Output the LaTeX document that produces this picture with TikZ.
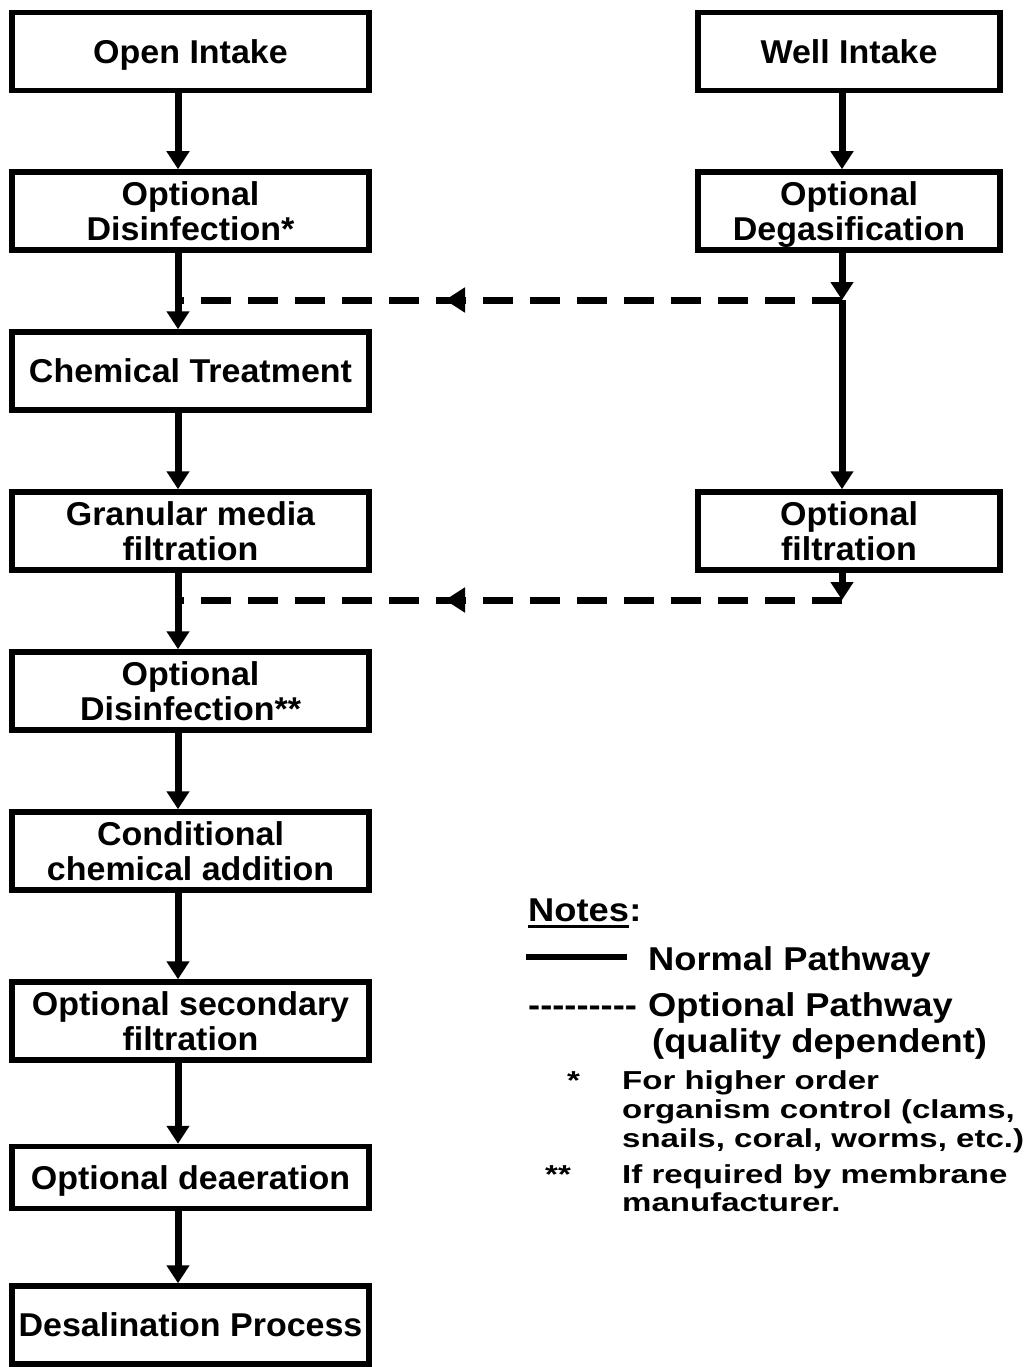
\documentclass[tikz,border=0pt]{standalone}
\usepackage{fontspec}
\setmainfont{Liberation Sans}
\newfontfamily\boxfont{Liberation Sans}[FakeStretch=1.03]
\newfontfamily\notefont{Liberation Sans}[FakeStretch=1.1]
\newfontfamily\footfont{Liberation Sans}[FakeStretch=1.27]
\usetikzlibrary{arrows.meta,decorations.markings,calc}
% a hyphen that never merges with its neighbour into a dash ligature
\newcommand\singlehyphen{-\kern0pt}

\tikzset{
  stagebox/.style={draw, line width=5.5pt, inner sep=0pt, align=center,
    font=\boxfont\bfseries\fontsize{33}{35}\selectfont},
  leftbox/.style={stagebox, minimum width=357pt, minimum height=78pt},
  rightbox/.style={stagebox, minimum width=302pt, minimum height=78pt},
  nodepth/.style={text depth=0pt},
  flow/.style={line width=7pt, -{Triangle[length=18pt,width=22pt]}},
  optflow/.style={line width=7pt, dash pattern=on 30pt off 17pt,
    postaction={decorate},
    decoration={markings,
      mark=at position 397pt with {\arrow{Triangle[length=20pt,width=24pt]}}}},
  notetext/.style={inner sep=0pt, anchor=base west,
    font=\notefont\bfseries\fontsize{33}{36}\selectfont},
  foottext/.style={inner sep=0pt, anchor=base west,
    font=\footfont\bfseries\fontsize{26}{29}\selectfont},
}

\begin{document}
\begin{tikzpicture}[x=1pt,y=-1pt]
\useasboundingbox (0,0) rectangle (1030,1367);

% main treatment train (left)
\node[leftbox, nodepth] (open) at (190.5,51.5) {Open Intake};
\node[leftbox] (dis1)   at (190.5,211)   {Optional\\Disinfection*};
\node[leftbox, nodepth] (chem) at (190.5,371) {Chemical Treatment};
\node[leftbox] (gran)   at (190.5,531)   {Granular media\\filtration};
\node[leftbox] (dis2)   at (190.5,691)   {Optional\\Disinfection**};
\node[leftbox] (cond)   at (190.5,851)   {Conditional\\chemical addition};
\node[leftbox] (second) at (190.5,1021)  {Optional secondary\\filtration};
\node[leftbox, nodepth, minimum height=62pt] (deaer) at (190.5,1177.5) {Optional deaeration};
\node[leftbox, nodepth] (desal) at (190.5,1325) {Desalination Process};

% well water train (right)
\node[rightbox, nodepth] (well) at (849,51.5) {Well Intake};
\node[rightbox, nodepth] (degas) at (849,211) {Optional\\Degasification};
\node[rightbox] (wfilt) at (849,531)  {Optional\\filtration};

% connector columns and junctions
\coordinate (lx) at (178,0);
\coordinate (rx) at (842,0);
\coordinate (j1r) at (842,300);
\coordinate (j1l) at (178,300);
\coordinate (j2r) at (842,600);
\coordinate (j2l) at (178,600);

% normal pathway
\draw[flow] (open.south -| lx)   -- (dis1.north -| lx);
\draw[flow] (dis1.south -| lx)   -- (chem.north -| lx);
\draw[flow] (chem.south -| lx)   -- (gran.north -| lx);
\draw[flow] (gran.south -| lx)   -- (dis2.north -| lx);
\draw[flow] (dis2.south -| lx)   -- (cond.north -| lx);
\draw[flow] (cond.south -| lx)   -- (second.north -| lx);
\draw[flow] (second.south -| lx) -- (deaer.north -| lx);
\draw[flow] (deaer.south -| lx)  -- (desal.north -| lx);

\draw[flow] (well.south -| rx)  -- (degas.north -| rx);
\draw[flow] (degas.south -| rx) -- (j1r);
\draw[flow] (j1r) -- (wfilt.north -| rx);
\draw[flow] (wfilt.south -| rx) -- (j2r);

% optional pathways
\draw[optflow] (j1r) -- (j1l);
\draw[optflow] (j2r) -- (j2l);

% notes
\node[notetext] (notes) at (528,921) {Notes};
\node[notetext] (colon) at (notes.base east) {:};
\draw[line width=3pt] ([yshift=-5pt]notes.base west) -- ([yshift=-5pt]notes.base east);

\coordinate (legA) at (526,957);
\coordinate (legB) at (627,957);
\draw[line width=6pt] (legA) -- (legB);
\node[notetext] (normal) at (648,970) {Normal Pathway};

\node[notetext] (dashes) at (528,1016)
  {\singlehyphen\singlehyphen\singlehyphen\singlehyphen\singlehyphen\singlehyphen\singlehyphen\singlehyphen\singlehyphen};
\node[notetext] (optional) at (648,1016) {Optional Pathway};
\node[notetext] (quality) at (652,1052) {(quality dependent)};

\node[foottext] (star1) at (567,1089) {*};
\node[foottext] (fn1a) at (622,1089) {For higher order};
\node[foottext] (fn1b) at (622,1118) {organism control (clams,};
\node[foottext] (fn1c) at (622,1147) {snails, coral, worms, etc.)};
\node[foottext] (star2) at (545,1183) {**};
\node[foottext] (fn2a) at (622,1183) {If required by membrane};
\node[foottext] (fn2b) at (622,1211) {manufacturer.};
\end{tikzpicture}
\end{document}
